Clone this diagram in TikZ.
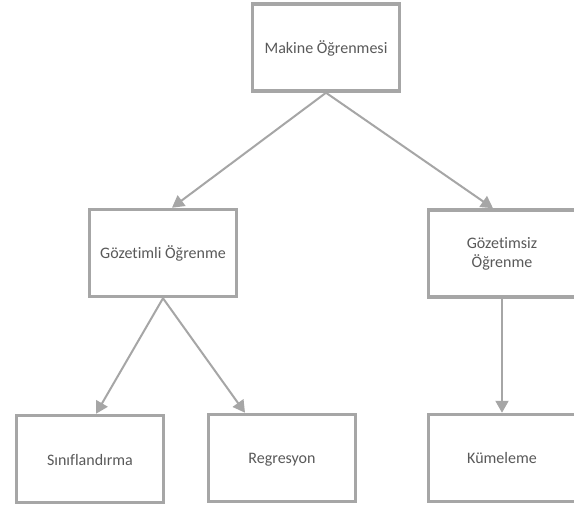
\documentclass[tikz,border=0pt]{standalone}
\usepackage{fontspec}
\setmainfont{Carlito}[Ligatures={NoCommon}]
\usetikzlibrary{arrows.meta}
\definecolor{boxgray}{HTML}{A6A6A6}
\definecolor{txtgray}{HTML}{595959}
\tikzset{
  box/.style={draw=boxgray, line width=3.5pt, fill=white, minimum width=147pt, minimum height=87pt, inner sep=2pt, text=txtgray, font=\fontsize{16pt}{19pt}\selectfont, align=center},
  oneline/.style={text height=15pt, text depth=3pt},
  conn/.style={draw=boxgray, line width=2pt, -{Triangle[length=12pt,width=13pt]}}
}
\begin{document}
\begin{tikzpicture}[x=1pt,y=-1pt]
\fill[white] (0,0) rectangle (574,508);
\clip (0,0) rectangle (574,508);
\node[box,oneline] (ml) at (326,47.5) {Makine Öğrenmesi};
\node[box,oneline] (sup) at (163,253) {Gözetimli Öğrenme};
\node[box] (uns) at (502,253.5) {Gözetimsiz\\Öğrenme};
\node[box,oneline] (cls) at (90,459) {Sınıflandırma};
\node[box,oneline] (reg) at (282,458) {Regresyon};
\node[box,oneline] (kum) at (502,458) {Kümeleme};
\draw[conn] (ml.south) -- ([xshift=9pt]sup.north);
\draw[conn] (ml.south) -- ([xshift=-9pt]uns.north);
\draw[conn] (sup.south) -- ([xshift=6pt]cls.north);
\draw[conn] (sup.south) -- ([xshift=-37pt]reg.north);
\draw[conn] (uns.south) -- (kum.north);
\end{tikzpicture}
\end{document}
